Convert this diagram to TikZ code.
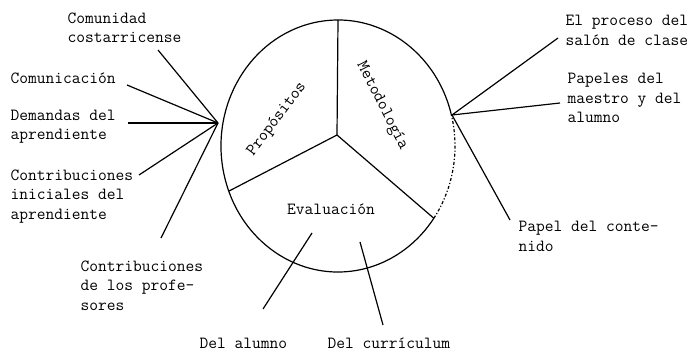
\documentclass[tikz,border=0pt]{standalone}
\begin{document}
\begin{tikzpicture}[x=1pt,y=-1pt,
  lbl/.style={font=\fontsize{17}{19.5}\selectfont\ttfamily, align=left, inner sep=0pt, anchor=west},
  ctr/.style={font=\fontsize{17}{19.5}\selectfont\ttfamily, inner sep=0pt},
  conn/.style={line width=1.2pt},
  every path/.style={line width=1.2pt}]
\useasboundingbox[fill=white] (0,0) rectangle (695,353);

% circle
\begin{scope}[shift={(338,146)}, yscale=-1]
  \draw (15:117 and 126) arc[start angle=15, end angle=325, x radius=117, y radius=126];
  \draw[dash dot] (-35:117 and 126) arc[start angle=-35, end angle=15, x radius=117, y radius=126];
  \coordinate (top) at (90:117 and 126);
  \coordinate (bl) at (201:117 and 126);
  \coordinate (br) at (-35:117 and 126);
\end{scope}
\coordinate (J) at (337,135);
\draw[conn] (J) -- (top);
\draw[conn] (J) -- (bl);
\draw[conn] (J) -- (br);

% sector labels
\node[ctr, rotate=53] (prop) at (277,119) {Propósitos};
\node[ctr, rotate=-63] (meto) at (382,106) {Metodología};
\node[ctr] (eval) at (331,209) {Evaluación};

% left labels
\node[lbl] (comunidad) at (67,28) {Comunidad\\costarricense};
\node[lbl] (comunicacion) at (10,78) {Comunicación};
\node[lbl] (demandas) at (10,126.5) {Demandas del\\aprendiente};
\node[lbl] (contribA) at (10,196.5) {Contribuciones\\iniciales del\\aprendiente};
\node[lbl] (contribB) at (80,285.5) {Contribuciones\\de los profe-\\sores};

% right labels
\node[lbl] (proceso) at (565,30.5) {El proceso del\\salón de clase};
\node[lbl] (papeles) at (567,98) {Papeles del\\maestro y del\\alumno};
\node[lbl] (papel) at (518,236.5) {Papel del conte-\\nido};

% bottom labels
\node[lbl] (alumno) at (199,343) {Del alumno};
\node[lbl] (curriculum) at (327,343) {Del currículum};

% hubs and line ends
\coordinate (hubL) at (218,123);
\coordinate (hubR) at (452,115);
\coordinate (eA) at (158,50);
\coordinate (eB) at (127,85);
\coordinate (eC) at (128,123);
\coordinate (eD) at (139,175);
\coordinate (eE) at (161,238);
\coordinate (fA) at (558,38);
\coordinate (fB) at (560,103);
\coordinate (fC) at (510,220);
\coordinate (gA1) at (312,233);
\coordinate (gA2) at (263,309);
\coordinate (gB1) at (360,242);
\coordinate (gB2) at (383,325);

\draw[conn] (hubL) -- (eA);
\draw[conn] (hubL) -- (eB);
\draw[conn] (hubL) -- (eC);
\draw[conn] (hubL) -- (eD);
\draw[conn] (hubL) -- (eE);
\draw[conn] (hubR) -- (fA);
\draw[conn] (hubR) -- (fB);
\draw[conn] (hubR) -- (fC);
\draw[conn] (gA1) -- (gA2);
\draw[conn] (gB1) -- (gB2);
\end{tikzpicture}
\end{document}
